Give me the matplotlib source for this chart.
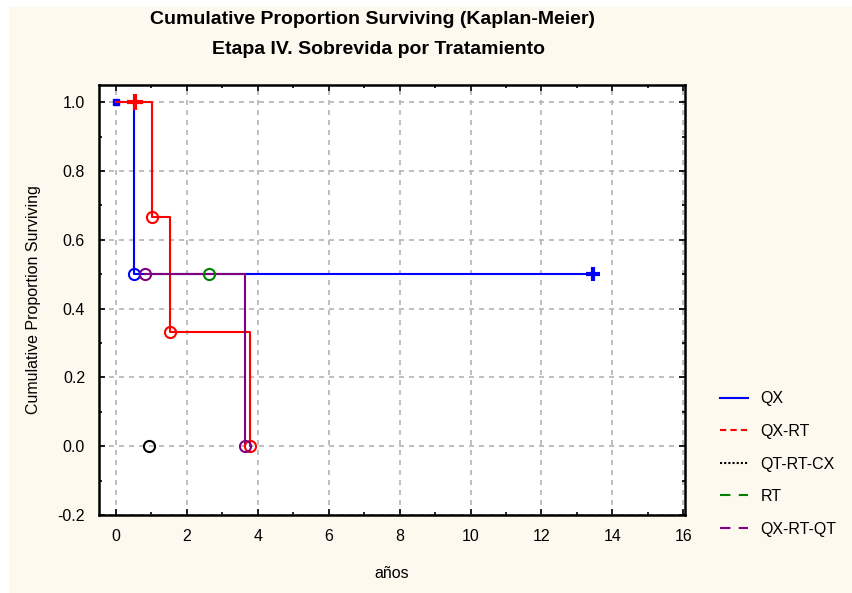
import matplotlib.pyplot as plt
from matplotlib.lines import Line2D
from matplotlib.patches import Rectangle
from matplotlib.ticker import MultipleLocator

plt.rcParams['font.family'] = ['Liberation Sans', 'DejaVu Sans']

# tiempos (años) y supervivencia acumulada por tratamiento
qx_t = [0.0, 0.51, 13.45]
qx_s = [1.0, 0.5, 0.5]
qx_evt_t = [0.51]
qx_evt_s = [0.5]
qx_cens_t = [13.45]
qx_cens_s = [0.5]

qxrt_t = [0.0, 1.02, 1.52, 3.77]
qxrt_s = [1.0, 0.667, 0.333, 0.0]
qxrt_evt_t = [1.02, 1.52, 3.77]
qxrt_evt_s = [0.667, 0.333, 0.0]
qxrt_cens_t = [0.53]
qxrt_cens_s = [1.0]

qtrtcx_evt_t = [0.93]
qtrtcx_evt_s = [0.0]

rt_evt_t = [2.62]
rt_evt_s = [0.5]

qxrtqt_t = [0.82, 3.65]
qxrtqt_s = [0.5, 0.0]
qxrtqt_evt_t = [0.82, 3.65]
qxrtqt_evt_s = [0.5, 0.0]

labels = ['QX', 'QX-RT', 'QT-RT-CX', 'RT', 'QX-RT-QT']
colors = ['#0000ff', '#ff0000', '#000000', '#008000', '#800080']

fig = plt.figure(figsize=(8.52, 5.93), dpi=100, facecolor='white')
fig.patches.append(Rectangle((9 / 852, 0), 1, 1 - 7 / 593, transform=fig.transFigure,
                             facecolor='#fdf9ef', edgecolor='none', zorder=-10))

ax = fig.add_axes([99 / 852, 1 - 515 / 593, 586 / 852, 430 / 593])
ax.set_facecolor('white')

circ = dict(marker='o', ms=8, mfc='none', mew=1.5, ls='none', zorder=4)

# curvas escalonadas
ax.step(qx_t, qx_s, where='post', color=colors[0], lw=1.5, zorder=3)
ax.plot(qx_t[:1], qx_s[:1], marker='s', ms=4, color=colors[0], ls='none', zorder=3)
ax.plot(qx_evt_t, qx_evt_s, mec=colors[0], **circ)
ax.plot(qx_cens_t, qx_cens_s, marker='+', ms=10, mew=3, color=colors[0], ls='none', zorder=4)

ax.step(qxrt_t, qxrt_s, where='post', color=colors[1], lw=1.5, zorder=3)
ax.plot(qxrt_evt_t, qxrt_evt_s, mec=colors[1], **circ)
ax.plot(qxrt_cens_t, qxrt_cens_s, marker='+', ms=12, mew=3, color=colors[1], ls='none', zorder=4)

ax.plot(qtrtcx_evt_t, qtrtcx_evt_s, mec=colors[2], **circ)

ax.step(qxrtqt_t, qxrtqt_s, where='post', color=colors[4], lw=1.5, zorder=3.5)
ax.plot(rt_evt_t, rt_evt_s, mec=colors[3], **circ)
ax.plot(qxrtqt_evt_t, qxrtqt_evt_s, mec=colors[4], **circ)

ax.set_xlim(-0.48, 16.05)
ax.set_ylim(-0.2, 1.05)
ax.xaxis.set_major_locator(MultipleLocator(2))
ax.xaxis.set_minor_locator(MultipleLocator(1))
ax.yaxis.set_major_locator(MultipleLocator(0.2))
ax.yaxis.set_minor_locator(MultipleLocator(0.1))
ax.yaxis.set_major_formatter(plt.FuncFormatter(lambda v, p: f'{v:.1f}'))
ax.tick_params(which='both', direction='in', top=True, right=True, width=1.2)
ax.tick_params(which='major', length=4, labelsize=11.5, pad=10)
ax.tick_params(which='minor', length=2.5)
ax.grid(True, which='major', ls=(0, (3, 3)), color='#b4b4b4', lw=1.2)
for sp in ax.spines.values():
    sp.set_linewidth(1.8)

ax.set_xlabel('años', fontsize=11.5, labelpad=16)
ax.set_ylabel('Cumulative Proportion Surviving', fontsize=11.5, labelpad=12)

fig.text(373 / 852, 1 - 20 / 593, 'Cumulative Proportion Surviving (Kaplan-Meier)',
         ha='center', va='center', fontsize=14, fontweight='bold')
fig.text(378 / 852, 1 - 50 / 593, 'Etapa IV. Sobrevida por Tratamiento',
         ha='center', va='center', fontsize=14, fontweight='bold')

handles = [
    Line2D([], [], color=colors[0], lw=1.5, ls='-'),
    Line2D([], [], color=colors[1], lw=1.5, ls=(0, (3, 2))),
    Line2D([], [], color=colors[2], lw=1.5, ls=(0, (1, 1))),
    Line2D([], [], color=colors[3], lw=1.5, ls=(0, (5, 4))),
    Line2D([], [], color=colors[4], lw=1.5, ls=(0, (5, 4))),
]
fig.legend(handles, labels, loc='upper left', bbox_to_anchor=(706 / 852, 1 - 377 / 593),
           frameon=False, fontsize=11.5, handlelength=1.7, handletextpad=0.8,
           labelspacing=1.1)

fig.savefig('out.png', dpi=100, facecolor=fig.get_facecolor())
